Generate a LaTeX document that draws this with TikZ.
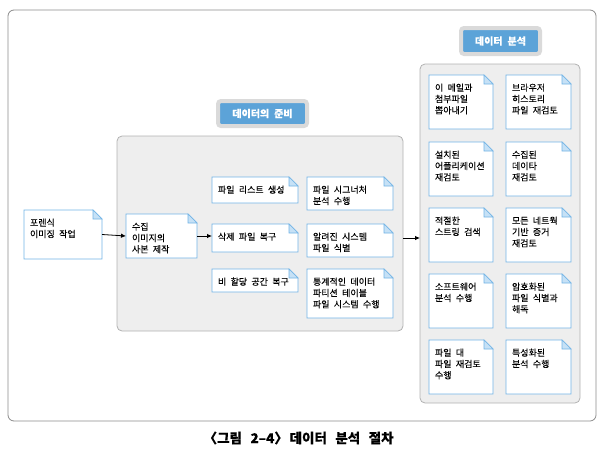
\documentclass[tikz,border=0pt]{standalone}
\usepackage{fontspec}
\setmainfont[FakeBold=0.05]{Noto Sans CJK KR}
\usetikzlibrary{arrows.meta,positioning}

\definecolor{docblue}{HTML}{72B4E6}
\definecolor{foldblue}{HTML}{C6E1F6}
\definecolor{panelgray}{HTML}{EEEEEE}
\definecolor{panelline}{HTML}{B2B2B2}
\definecolor{tagblue}{HTML}{5CA3D8}
\definecolor{taggray}{HTML}{DADADA}
\definecolor{framegray}{HTML}{8A8A8A}

\newcommand{\wordsp}[1]{\spaceskip=#1\relax}

\tikzset{
  docline/.style={draw=docblue, line width=0.9pt, fill=white},
  fold/.style={draw=docblue, line width=0.6pt, fill=foldblue},
  doctext/.style={anchor=north west, inner xsep=6pt, inner ysep=0pt, outer sep=0pt,
    font=\fontsize{9}{11.3}\selectfont\wordsp{4.3pt}},
  panel/.style={draw=panelline, fill=panelgray, rounded corners=5pt, line width=0.8pt,
    anchor=north west, inner sep=0pt, outer sep=0pt},
  tag/.style={fill=tagblue, draw=taggray, line width=4pt, rounded corners=3pt,
    text=white, font=\fontsize{10}{12}\selectfont\bfseries\wordsp{5pt}, inner sep=0pt},
  arr/.style={-{Latex[length=5pt,width=4.5pt]}, line width=0.8pt},
}

% document box: name, x, y, width, height, text
\newcommand{\docnode}[6]{%
  \filldraw[docline] (#2,#3) -- ++(#4-9,0) -- ++(9,9) -- ++(0,#5-9) -- ++(-#4,0) -- cycle;
  \filldraw[fold] (#2+#4-9,#3) -- ++(0,9) -- ++(9,0) -- cycle;
  \node[doctext] (#1) at (#2,#3)
    {\parbox[c][#5pt][t]{\dimexpr#4pt-12pt\relax}{\raggedright\rule{0pt}{16pt}#6}};
}

\begin{document}
\begin{tikzpicture}[x=1pt, y=-1pt]
  \useasboundingbox (0,0) rectangle (604,458);

  % frame
  \draw[framegray, line width=0.8pt, rounded corners=6pt] (8,10) rectangle (596,421);
  \node[font=\fontsize{13.5}{15}\selectfont\bfseries\wordsp{8.5pt}] (cap) at (302,438)
    {\makebox[0.5em][r]{〈}그림 2–4\makebox[0.5em][l]{〉} 데이터 분석 절차};

  % panels
  \node[panel, minimum width=286pt, minimum height=195pt] (prep) at (117,136) {};
  \node[panel, minimum width=160pt, minimum height=339pt] (anal) at (420,64) {};
  \node[tag, minimum width=89pt, minimum height=25pt] (prepTag) at (262.5,113.5) {데이터의 준비};
  \node[tag, minimum width=79pt, minimum height=26pt] (analTag) at (500.5,41) {데이터 분석};

  % left
  \docnode{img}{24}{210}{78}{49}{포렌식\\이미징 작업}
  \docnode{copy}{126}{214}{71}{44}{수집\\이미지의\\사본 제작}

  % preparation
  \docnode{list}{212}{177}{86}{26}{파일 리스트 생성}
  \docnode{sig}{307}{177}{86}{33}{파일 시그너처\\분석 수행}
  \docnode{del}{212}{224}{86}{28}{삭제 파일 복구}
  \docnode{fsys}{307}{224}{86}{33}{알려진 시스템\\파일 식별}
  \docnode{unal}{212}{269}{86}{23}{비 할당 공간 복구}
  \docnode{stat}{307}{269}{86}{49}{통계적인 데이터\\파티션 테이블\\파일 시스템 수행}

  % analysis
  \docnode{mail}{429}{75}{64}{54}{이 메일과\\첨부파일\\뽑아내기}
  \docnode{brow}{506}{75}{65}{54}{브라우저\\히스토리\\파일 재검토}
  \docnode{appl}{429}{142}{64}{54}{설치된\\어플리케이션\\재검토}
  \docnode{coll}{506}{142}{65}{54}{수집된\\데이타\\재검토}
  \docnode{str}{429}{208}{64}{54}{적절한\\스트링 검색}
  \docnode{net}{506}{208}{65}{54}{모든 네트웍\\기반 증거\\재검토}
  \docnode{soft}{429}{274}{64}{54}{소프트웨어\\분석 수행}
  \docnode{crypt}{506}{274}{65}{54}{암호화된\\파일 식별과\\해독}
  \docnode{file}{429}{340}{64}{54}{파일 대\\파일 재검토\\수행}
  \docnode{spec}{506}{340}{65}{54}{특성화된\\분석 수행}

  % arrows
  \draw[arr] (img.east) -- (copy.west);
  \draw[arr] (copy.east) -- (copy.east -| del.west);
  \draw[arr] (prep.east |- del.west) -- (anal.west |- del.west);
\end{tikzpicture}
\end{document}
